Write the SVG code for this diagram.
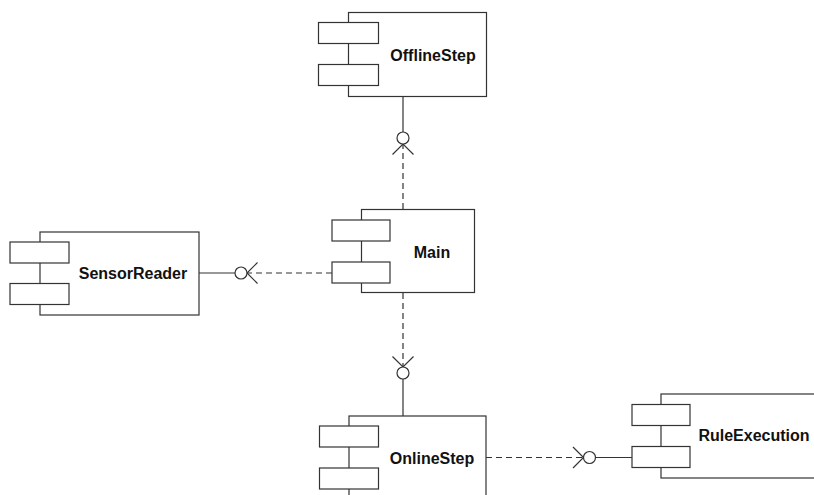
<svg xmlns="http://www.w3.org/2000/svg" width="814" height="495" viewBox="0 0 814 495">
  <style>
    .body { fill: #ffffff; stroke: #333333; stroke-width: 1.2; }
    .port { fill: #ffffff; stroke: #333333; stroke-width: 1.2; }
    .label { font-family: "Liberation Sans", Arial, sans-serif; font-weight: bold; font-size: 16px; fill: #111111; text-anchor: middle; }
    .solid { fill: none; stroke: #333333; stroke-width: 1.2; }
    .dash { fill: none; stroke: #333333; stroke-width: 1.2; stroke-dasharray: 6 4; }
    .ball { fill: #ffffff; stroke: #333333; stroke-width: 1.2; }
  </style>
  <rect width="814" height="495" fill="#ffffff"/>

  <!-- connectors: lollipop (provided) and dependency (required) -->
  <g id="connectors">
    <!-- Main -> OfflineStep -->
    <line class="solid" x1="403" y1="97" x2="403" y2="132"/>
    <line class="dash" x1="403" y1="209" x2="403" y2="145"/>
    <polyline class="solid" points="392.5,154.5 403,144 413.5,154.5"/>
    <circle class="ball" cx="403" cy="138" r="6"/>

    <!-- Main -> SensorReader -->
    <line class="solid" x1="199" y1="273" x2="235" y2="273"/>
    <line class="dash" x1="332" y1="273" x2="248" y2="273"/>
    <polyline class="solid" points="257.5,262.5 247,273 257.5,283.5"/>
    <circle class="ball" cx="241" cy="273" r="6"/>

    <!-- Main -> OnlineStep -->
    <line class="dash" x1="403" y1="293" x2="403" y2="366"/>
    <polyline class="solid" points="392.5,356.5 403,367 413.5,356.5"/>
    <line class="solid" x1="403" y1="379" x2="403" y2="416"/>
    <circle class="ball" cx="403" cy="373" r="6"/>

    <!-- OnlineStep -> RuleExecution -->
    <line class="dash" x1="486" y1="457.5" x2="582" y2="457.5"/>
    <polyline class="solid" points="573,447 583.5,457.5 573,468"/>
    <line class="solid" x1="595.5" y1="457.5" x2="632" y2="457.5"/>
    <circle class="ball" cx="589.5" cy="457.5" r="6"/>
  </g>

  <g id="OfflineStep">
    <rect class="body" x="348.5" y="12.5" width="138" height="84"/>
    <rect class="port" x="318.5" y="22.5" width="60" height="21"/>
    <rect class="port" x="318.5" y="64.5" width="60" height="21"/>
    <text class="label" x="433" y="61">OfflineStep</text>
  </g>

  <g id="Main">
    <rect class="body" x="361.5" y="209.5" width="113" height="83"/>
    <rect class="port" x="332" y="220" width="58" height="21"/>
    <rect class="port" x="332" y="262" width="58" height="21"/>
    <text class="label" x="432" y="258">Main</text>
  </g>

  <g id="SensorReader">
    <rect class="body" x="40" y="232" width="159" height="83"/>
    <rect class="port" x="10" y="242" width="59" height="21"/>
    <rect class="port" x="10" y="283.5" width="59" height="21"/>
    <text class="label" x="133" y="279">SensorReader</text>
  </g>

  <g id="OnlineStep">
    <rect class="body" x="349" y="416" width="137" height="100"/>
    <rect class="port" x="319.5" y="426" width="59" height="21"/>
    <rect class="port" x="319.5" y="468" width="59" height="21"/>
    <text class="label" x="432" y="464">OnlineStep</text>
  </g>

  <g id="RuleExecution">
    <rect class="body" x="661" y="394" width="200" height="84"/>
    <rect class="port" x="632" y="404.5" width="58" height="21"/>
    <rect class="port" x="632" y="446.5" width="58" height="21"/>
    <text class="label" x="754" y="441">RuleExecution</text>
  </g>
</svg>
